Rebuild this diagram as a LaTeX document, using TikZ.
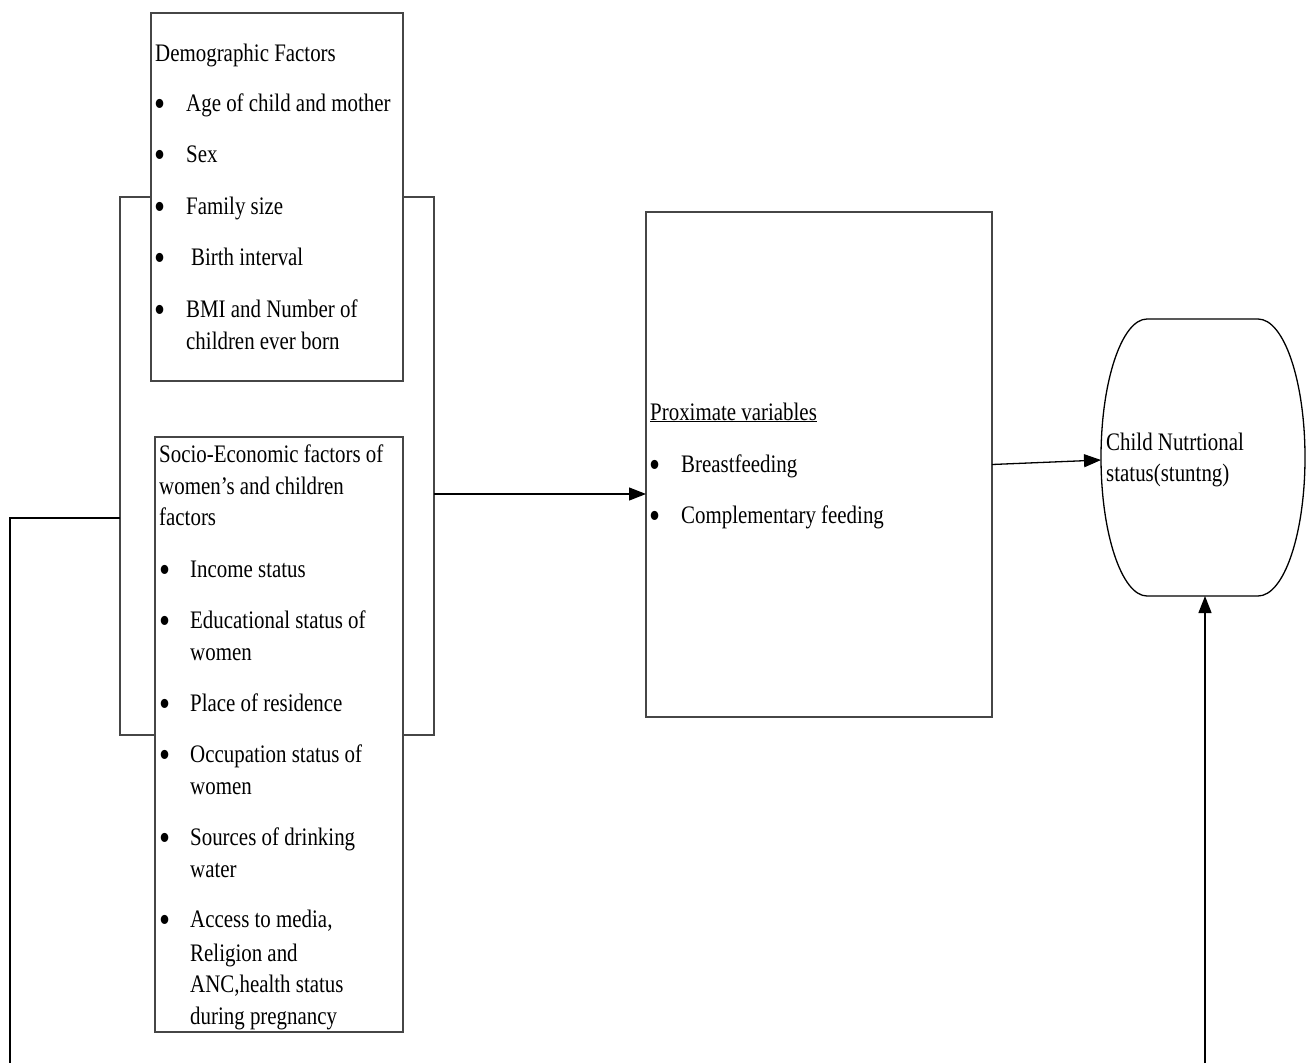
\documentclass[tikz,border=0pt]{standalone}
\usepackage{fontspec}
\setmainfont{Liberation Serif}[FakeStretch=0.83]
\usetikzlibrary{arrows.meta,calc}
\definecolor{linegray}{RGB}{70,70,70}
\begin{document}
\begin{tikzpicture}[x=1pt,y=-1pt,
  box/.style={draw=linegray, line width=1.5pt, fill=white, inner sep=0pt, outer sep=0pt, anchor=north west},
  frame/.style={draw=linegray, line width=1.5pt, inner sep=0pt, outer sep=0pt, anchor=north west},
  txt/.style={anchor=base west, inner sep=0pt, font=\fontsize{25.2}{32}\selectfont},
  bul/.style={anchor=center, inner sep=0pt, yshift=3pt, font=\fontsize{38}{40}\selectfont},
  conn/.style={draw=black, line width=1.3pt},
  arr/.style={conn, -{Triangle[length=17pt,width=13pt]}}]
\useasboundingbox (0,0) rectangle (1312,1063);
\fill[white] (0,0) rectangle (1312,1063);

% bracket behind the two boxes
\node[frame, minimum width=314pt, minimum height=538pt] (bracket) at (120,197) {};

% demographic box
\node[box, minimum width=252pt, minimum height=368pt] (demo) at (151,13) {};
\node[txt] (dt) at (155,61) {Demographic Factors};
\node[bul] (db1) at (160,111) {\textbullet};
\node[txt] (d1) at (186,111) {Age of child and mother};
\node[bul] (db2) at (160,162) {\textbullet};
\node[txt] (d2) at (186,162) {Sex};
\node[bul] (db3) at (160,214) {\textbullet};
\node[txt] (d3) at (186,214) {Family size};
\node[bul] (db4) at (160,265) {\textbullet};
\node[txt] (d4) at (191,265) {Birth interval};
\node[bul] (db5) at (160,317) {\textbullet};
\node[txt] (d5a) at (186,317) {BMI and Number of};
\node[txt] (d5b) at (186,349) {children ever born};

% socio-economic box
\node[box, minimum width=248pt, minimum height=595pt] (socio) at (155,437) {};
\node[txt] (st1) at (159,462) {Socio-Economic factors of};
\node[txt] (st2) at (159,494) {women’s and children};
\node[txt] (st3) at (159,525) {factors};
\node[bul] (sb1) at (165,577) {\textbullet};
\node[txt] (s1) at (190,577) {Income status};
\node[bul] (sb2) at (165,628) {\textbullet};
\node[txt] (s2a) at (190,628) {Educational status of};
\node[txt] (s2b) at (190,660) {women};
\node[bul] (sb3) at (165,711) {\textbullet};
\node[txt] (s3) at (190,711) {Place of residence};
\node[bul] (sb4) at (165,762) {\textbullet};
\node[txt] (s4a) at (190,762) {Occupation status of};
\node[txt] (s4b) at (190,794) {women};
\node[bul] (sb5) at (165,845) {\textbullet};
\node[txt] (s5a) at (190,845) {Sources of drinking};
\node[txt] (s5b) at (190,877) {water};
\node[bul] (sb6) at (165,927) {\textbullet};
\node[txt] (s6a) at (190,927) {Access to media,};
\node[txt] (s6b) at (190,961) {Religion and};
\node[txt] (s6c) at (190,992) {ANC,health status};
\node[txt] (s6d) at (190,1024) {during pregnancy};

% proximate box
\node[box, minimum width=346pt, minimum height=505pt] (prox) at (646,212) {};
\node[txt] (pt) at (650,420) {\underline{Proximate variables}};
\node[bul] (pb1) at (655,472) {\textbullet};
\node[txt] (p1) at (681,472) {Breastfeeding};
\node[bul] (pb2) at (655,523) {\textbullet};
\node[txt] (p2) at (681,523) {Complementary feeding};

% child nutritional status
\node[inner sep=0pt, outer sep=0pt, minimum width=204pt, minimum height=277pt] (child) at (1203,457.5) {};
\draw[draw=black, line width=1.3pt]
  (1147,319) -- (1258,319)
  .. controls (1284,319) and (1305,381) .. (1305,457.5)
  .. controls (1305,534) and (1284,596) .. (1258,596)
  -- (1147,596)
  .. controls (1122,596) and (1101,534) .. (1101,457.5)
  .. controls (1101,381) and (1122,319) .. (1147,319) -- cycle;
\node[txt] (c1) at (1106,450) {Child Nutrtional};
\node[txt] (c2) at (1106,481) {status(stuntng)};

% connectors
\coordinate (ya) at (0,494);
\draw[arr] (bracket.east |- ya) -- (prox.west |- ya);
\coordinate (yc) at (0,460);
\draw[arr] (prox.east) -- (child.west |- yc);
\coordinate (yl) at (0,518);
\coordinate (lb) at (10,1063);
\draw[conn] (bracket.west |- yl) -- (lb |- yl) -- (lb);
\coordinate (rb) at (1205,1063);
\draw[arr] (rb) -- (rb |- child.south);
\end{tikzpicture}
\end{document}
